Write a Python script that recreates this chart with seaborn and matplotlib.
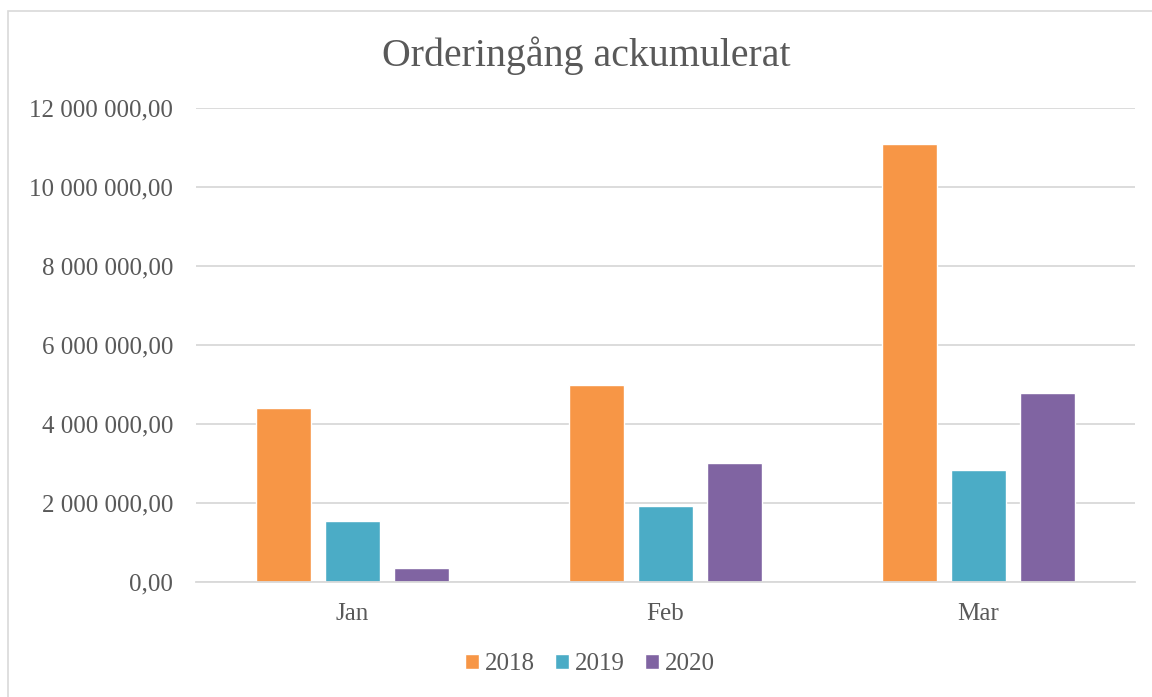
# Orderingång ackumulerat - grouped bar chart
import matplotlib
matplotlib.use("Agg")
import matplotlib.pyplot as plt
import matplotlib.ticker as mticker
from matplotlib.patches import Rectangle
import pandas as pd
import seaborn as sns

# Data
months = ["Jan", "Feb", "Mar"]
years = ["2018", "2019", "2020"]
values_2018 = [4_400_000, 5_000_000, 11_080_000]
values_2019 = [1_540_000, 1_930_000, 2_840_000]
values_2020 = [350_000, 3_020_000, 4_790_000]
colors = ["#F79646", "#4BACC6", "#8064A2"]

rows = []
for year, vals in zip(years, [values_2018, values_2019, values_2020]):
    for m, v in zip(months, vals):
        rows.append({"Month": m, "Year": year, "Value": v})
df = pd.DataFrame(rows)

sns.set_style("white")
plt.rcParams["font.family"] = ["Liberation Serif", "DejaVu Serif"]
text_color = "#595959"
grid_color = "#D9D9D9"

fig = plt.figure(figsize=(11.52, 6.97), dpi=100)

# chart area border (right and bottom edges fall outside the image)
fig.patches.append(Rectangle((8 / 1152, -0.2), 1.2, 1.2 - 11 / 697, transform=fig.transFigure,
                             fill=False, edgecolor=grid_color, linewidth=1.2))

ax = fig.add_axes([196 / 1152, 1 - 582 / 697, (1135 - 196) / 1152, (582 - 108) / 697])
sns.barplot(data=df, x="Month", y="Value", hue="Year", palette=colors,
            width=0.663, gap=0.21, ax=ax, legend=True, saturation=1)

ax.set_ylim(0, 12_000_000)
ax.set_xlim(-0.5, 2.5)
ax.yaxis.set_major_locator(mticker.MultipleLocator(2_000_000))


def fmt(v, pos):
    s = f"{v:,.2f}"
    return s.replace(",", " ").replace(".", ",")


ax.yaxis.set_major_formatter(mticker.FuncFormatter(fmt))
ax.grid(axis="y", color=grid_color, linewidth=1.3)
ax.set_axisbelow(True)
for side in ["left", "right", "top"]:
    ax.spines[side].set_visible(False)
ax.spines["bottom"].set_color(grid_color)
ax.spines["bottom"].set_linewidth(1.3)
ax.tick_params(axis="both", length=0, colors=text_color, labelsize=18)
ax.tick_params(axis="y", pad=16.5)
ax.tick_params(axis="x", pad=15)
ax.set_xlabel("")
ax.set_ylabel("")

fig.text(586 / 1152, 1 - 56 / 697, "Orderingång ackumulerat", ha="center", va="center",
         fontsize=28.7, color=text_color)

handles, labels = ax.get_legend_handles_labels()
ax.get_legend().remove()
fig.legend(handles, labels, loc="center", bbox_to_anchor=(590 / 1152, 1 - 664 / 697),
           ncol=3, frameon=False, fontsize=18, labelcolor=text_color,
           handlelength=0.55, handleheight=0.55, handletextpad=0.25, columnspacing=0.8)

fig.savefig("out.png", dpi=100)
